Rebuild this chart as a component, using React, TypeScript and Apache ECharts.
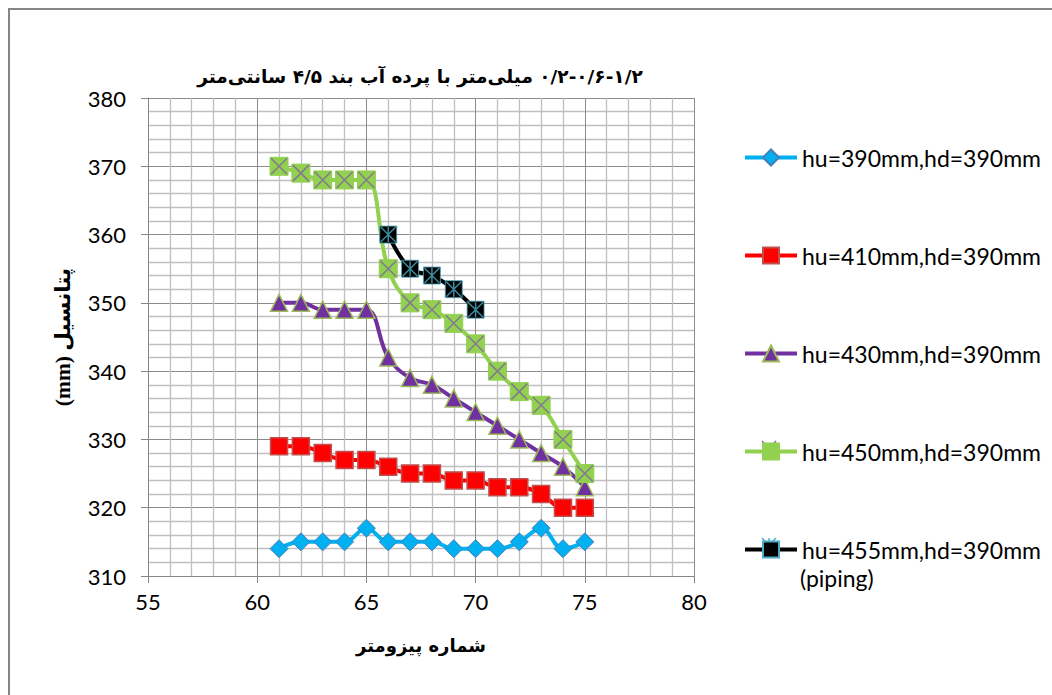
import React, { useEffect, useRef } from "react";
import * as echarts from "echarts";

const piezometers = [61, 62, 63, 64, 65, 66, 67, 68, 69, 70, 71, 72, 73, 74, 75];
const pipingPiezometers = [66, 67, 68, 69, 70];
const hu390 = [314, 315, 315, 315, 317, 315, 315, 315, 314, 314, 314, 315, 317, 314, 315];
const hu410 = [329, 329, 328, 327, 327, 326, 325, 325, 324, 324, 323, 323, 322, 320, 320];
const hu430 = [350, 350, 349, 349, 349, 342, 339, 338, 336, 334, 332, 330, 328, 326, 323];
const hu450 = [370, 369, 368, 368, 368, 355, 350, 349, 347, 344, 340, 337, 335, 330, 325];
const hu455 = [360, 355, 354, 352, 349];

const seriesNames = [
  "hu=390mm,hd=390mm",
  "hu=410mm,hd=390mm",
  "hu=430mm,hd=390mm",
  "hu=450mm,hd=390mm",
  "hu=455mm,hd=390mm (piping)",
];

const LRI = "\u2066";
const RLI = "\u2067";
const PDI = "\u2069";
const iso = (t: string) => LRI + t + PDI;

const gradation = ["۱/۲", "۰/۶", "۰/۲"];
const titleText =
  RLI + gradation.map(iso).join("-") + " میلی‌متر با پرده آب بند " + iso("۴/۵") + " سانتی‌متر" + PDI;
const xAxisName = "شماره پیزومتر";
const yAxisName = RLI + "پتانسیل (mm)" + PDI;

const latin = "Lato, 'DejaVu Sans', sans-serif";
const persian = "'DejaVu Sans', sans-serif";

const pairs = (xs: number[], ys: number[]) => xs.map((x, i) => [x, ys[i]]);

const X_PATH = "path://M0 0L10 10M10 0L0 10";
const STAR_PATH = "path://M0 0L10 10M10 0L0 10M5 0L5 10";

export default function App() {
  const ref = useRef<HTMLDivElement>(null);
  useEffect(() => {
    if (!ref.current) return;
    const chart = echarts.init(ref.current, undefined, { renderer: "svg" });

    const legendLeft = 743;
    const legendTop = 146;
    const itemW = 52;
    const itemH = 20;
    const gap = 75;
    const cx = legendLeft + itemW / 2;
    const cy = (k: number) => legendTop + 11 + k * 97;
    const s = 7;

    const lineCommon = {
      type: "line",
      smooth: 0.4,
      symbolSize: 17,
      z: 2,
    };

    chart.setOption({
      animation: false,
      backgroundColor: "#ffffff",
      title: {
        text: titleText,
        left: 420,
        top: 67,
        padding: 0,
        textAlign: "center",
        textStyle: { fontFamily: persian, fontWeight: "bold", fontSize: 18.5, color: "#000" },
      },
      grid: { left: 148, right: 358, top: 98, bottom: 119, containLabel: false },
      legend: {
        orient: "vertical",
        left: legendLeft,
        top: legendTop,
        itemWidth: itemW,
        itemHeight: itemH,
        itemGap: gap,
        padding: 0,
        selectedMode: false,
        lineStyle: { width: 4 },
        textStyle: { fontFamily: latin, fontSize: 23, color: "#000", lineHeight: 22 },
        formatter: (n: string) => n.replace(" (piping)", ""),
        data: seriesNames,
      },
      xAxis: {
        type: "value",
        min: 55,
        max: 80,
        interval: 5,
        name: xAxisName,
        nameLocation: "middle",
        nameGap: 60,
        nameTextStyle: { fontFamily: persian, fontWeight: "bold", fontSize: 18, color: "#000" },
        axisLine: { show: true, onZero: false, lineStyle: { color: "#868686", width: 1 } },
        axisTick: { show: true, length: 7, lineStyle: { color: "#868686" } },
        axisLabel: { fontFamily: latin, fontSize: 22, color: "#000", margin: 14 },
        splitLine: { show: true, lineStyle: { color: "#8C8C8C", width: 1 } },
        minorTick: { show: false, splitNumber: 5 },
        minorSplitLine: { show: true, lineStyle: { color: "#BFBFBF", width: 1.3 } },
      },
      yAxis: {
        type: "value",
        min: 310,
        max: 380,
        interval: 10,
        name: yAxisName,
        nameLocation: "middle",
        nameRotate: 90,
        nameGap: 74,
        nameTextStyle: {
          fontFamily: "'Liberation Serif', 'DejaVu Sans', serif",
          fontWeight: "bold",
          fontSize: 21.5,
          color: "#000",
        },
        axisLine: { show: true, lineStyle: { color: "#868686", width: 1 } },
        axisTick: { show: true, length: 7, lineStyle: { color: "#868686" } },
        axisLabel: { fontFamily: latin, fontSize: 22, color: "#000", margin: 22 },
        splitLine: { show: true, lineStyle: { color: "#8C8C8C", width: 1 } },
        minorTick: { show: false, splitNumber: 5 },
        minorSplitLine: { show: true, lineStyle: { color: "#BFBFBF", width: 1.3 } },
      },
      series: [
        {
          ...lineCommon,
          name: seriesNames[0],
          data: pairs(piezometers, hu390),
          symbol: "diamond",
          symbolSize: 18,
          lineStyle: { color: "#00B0F0", width: 4 },
          itemStyle: { color: "#00B0F0", borderColor: "#4A7EBB", borderWidth: 1 },
        },
        {
          ...lineCommon,
          name: seriesNames[1],
          data: pairs(piezometers, hu410),
          symbol: "rect",
          lineStyle: { color: "#FF0000", width: 4 },
          itemStyle: { color: "#FF0000", borderColor: "#C0504D", borderWidth: 1.5 },
        },
        {
          ...lineCommon,
          name: seriesNames[2],
          data: pairs(piezometers, hu430),
          symbol: "triangle",
          lineStyle: { color: "#7030A0", width: 4 },
          itemStyle: { color: "#7030A0", borderColor: "#9BBB59", borderWidth: 1.5 },
        },
        {
          ...lineCommon,
          name: seriesNames[3],
          data: pairs(piezometers, hu450),
          symbol: "rect",
          symbolSize: 18,
          lineStyle: { color: "#92D050", width: 4 },
          itemStyle: { color: "#92D050", borderColor: "#92D050", borderWidth: 1 },
        },
        {
          type: "scatter",
          name: "hu450-x",
          data: pairs(piezometers, hu450),
          symbol: X_PATH,
          symbolSize: 16,
          silent: true,
          z: 3,
          emphasis: { disabled: true },
          itemStyle: { color: "transparent", borderColor: "#8064A2", borderWidth: 1.5 },
        },
        {
          ...lineCommon,
          name: seriesNames[4],
          data: pairs(pipingPiezometers, hu455),
          symbol: "rect",
          z: 4,
          lineStyle: { color: "#000000", width: 4 },
          itemStyle: { color: "#000000", borderColor: "#4BACC6", borderWidth: 0.8 },
        },
        {
          type: "scatter",
          name: "hu455-star",
          data: pairs(pipingPiezometers, hu455),
          symbol: STAR_PATH,
          symbolSize: 15,
          silent: true,
          z: 5,
          emphasis: { disabled: true },
          itemStyle: { color: "transparent", borderColor: "#4BACC6", borderWidth: 1.5 },
        },
      ],
      graphic: [
        {
          type: "rect",
          silent: true,
          shape: { x: 9, y: 9, width: 1200, height: 1000 },
          style: { fill: "none", stroke: "#868686", lineWidth: 2 },
        },
        {
          type: "text",
          silent: true,
          left: legendLeft + itemW + 5,
          top: cy(4) + 21,
          style: { text: "(piping)", fontFamily: latin, fontSize: 23, fill: "#000" },
        },
        {
          type: "group",
          silent: true,
          z: 100,
          children: [
            { type: "line", shape: { x1: cx - s, y1: cy(3) - s, x2: cx + s, y2: cy(3) + s }, style: { stroke: "#8064A2", lineWidth: 1.5 } },
            { type: "line", shape: { x1: cx + s, y1: cy(3) - s, x2: cx - s, y2: cy(3) + s }, style: { stroke: "#8064A2", lineWidth: 1.5 } },
            { type: "line", shape: { x1: cx - s, y1: cy(4) - s, x2: cx + s, y2: cy(4) + s }, style: { stroke: "#4BACC6", lineWidth: 1.5 } },
            { type: "line", shape: { x1: cx + s, y1: cy(4) - s, x2: cx - s, y2: cy(4) + s }, style: { stroke: "#4BACC6", lineWidth: 1.5 } },
            { type: "line", shape: { x1: cx, y1: cy(4) - s, x2: cx, y2: cy(4) + s }, style: { stroke: "#4BACC6", lineWidth: 1.5 } },
          ],
        },
      ],
    });
    return () => chart.dispose();
  }, []);
  return (
    <div
      ref={ref}
      style={{ position: "absolute", left: 0, top: 0, width: 1052, height: 695, background: "#fff" }}
    />
  );
}
